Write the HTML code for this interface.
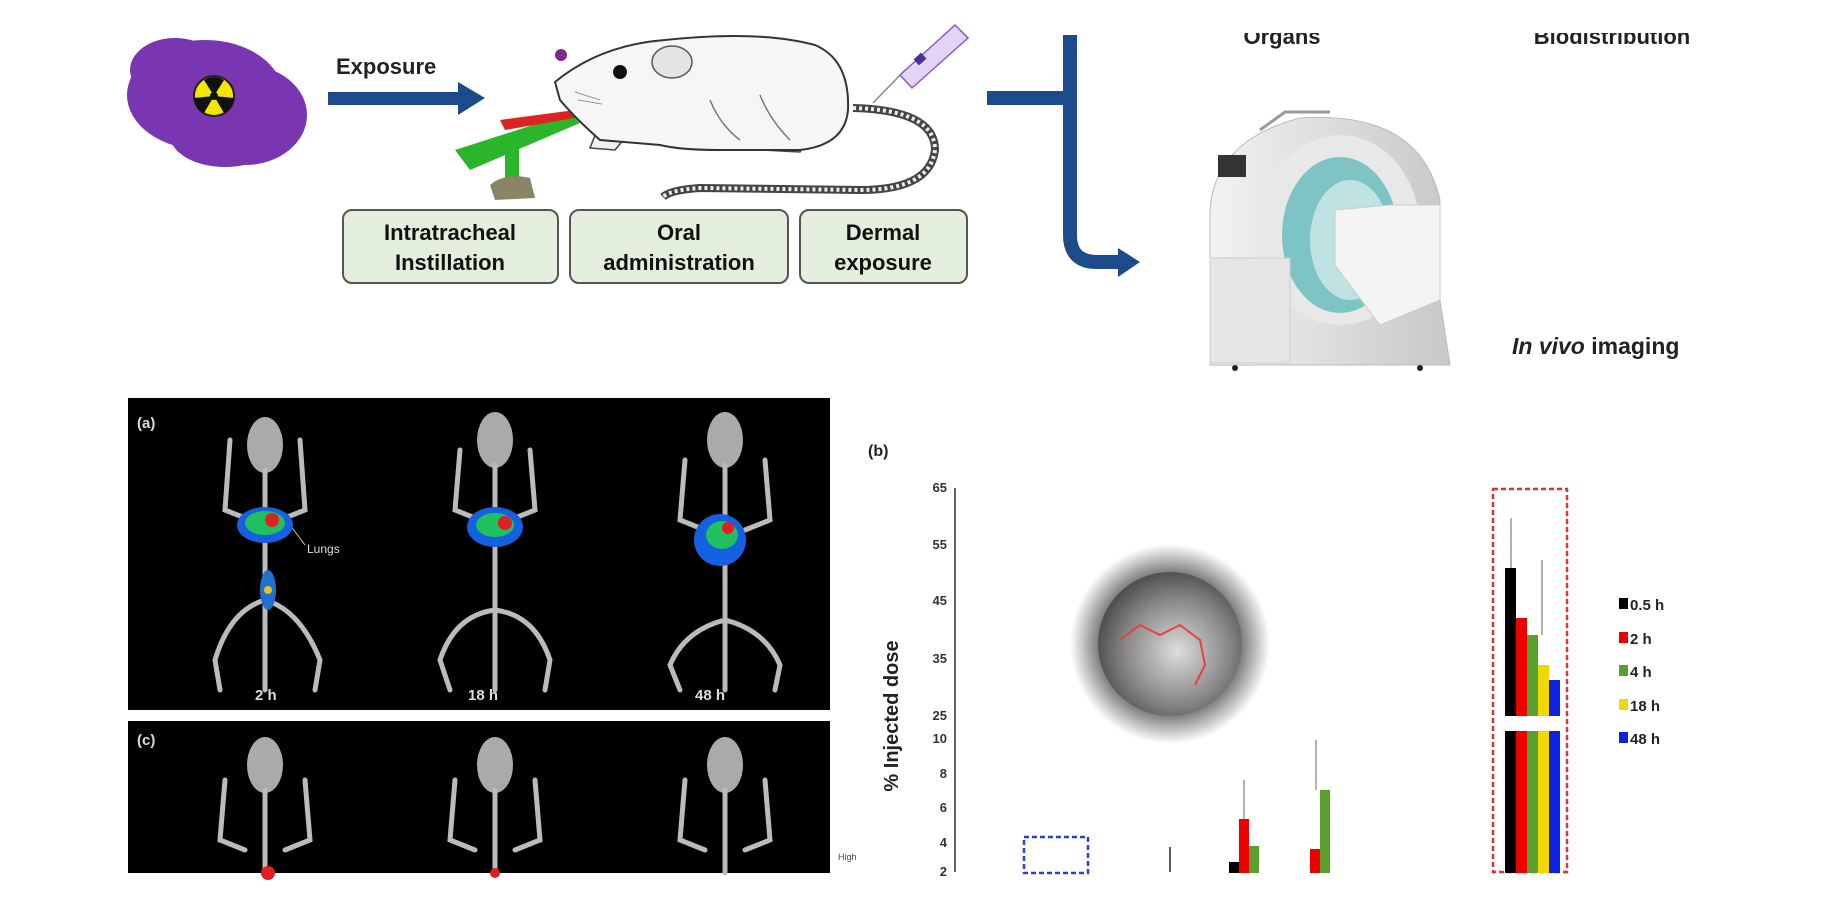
<!DOCTYPE html>
<html><head><meta charset="utf-8"><style>
html,body{margin:0;padding:0;background:#fff;}
svg{display:block;font-family:"Liberation Sans",sans-serif;}
</style></head><body>
<svg width="1843" height="900" viewBox="0 0 1843 900" xmlns="http://www.w3.org/2000/svg">
<defs>
<radialGradient id="glow" cx="50%" cy="50%" r="50%">
<stop offset="0.7" stop-color="#555"/><stop offset="1" stop-color="#fff"/></radialGradient>
<radialGradient id="ball" cx="55%" cy="55%" r="60%">
<stop offset="0" stop-color="#ddd"/><stop offset="0.6" stop-color="#888"/><stop offset="1" stop-color="#444"/></radialGradient>
<linearGradient id="scan" x1="0" x2="1"><stop offset="0" stop-color="#f2f2f2"/><stop offset="1" stop-color="#c8c8c8"/></linearGradient>
</defs>
<rect width="1843" height="900" fill="#fff"/>

<!-- purple blob -->
<g fill="#7a35b0">
<ellipse cx="205" cy="95" rx="78" ry="55"/>
<ellipse cx="245" cy="115" rx="62" ry="50"/>
<ellipse cx="225" cy="135" rx="55" ry="32"/>
<ellipse cx="175" cy="70" rx="45" ry="32"/>
</g>
<circle cx="214" cy="96" r="20" fill="#f5e600" stroke="#222" stroke-width="2"/>
<circle cx="214" cy="96" r="4" fill="#111"/>
<path d="M214 96 L204 80 A18 18 0 0 1 224 80Z M214 96 L234 98 A18 18 0 0 1 224 113Z M214 96 L204 113 A18 18 0 0 1 194 98Z" fill="#111"/>

<text x="336" y="74" font-size="22" font-weight="bold" fill="#222">Exposure</text>
<rect x="328" y="92" width="132" height="13" fill="#1d4a8a"/>
<polygon points="458,82 485,98 458,115" fill="#1d4a8a"/>

<!-- instillation device -->
<circle cx="561" cy="55" r="6" fill="#7a2a8a"/>
<polygon points="455,150 570,113 580,123 470,170" fill="#2bb52b"/>
<polygon points="500,120 575,110 580,117 505,130" fill="#d22"/>
<rect x="505" y="140" width="14" height="45" fill="#2bb52b"/>
<path d="M490 185 Q505 172 530 178 L535 198 L495 200Z" fill="#8b8567"/>

<!-- rat -->
<path d="M598 128 L590 148 L615 150 L625 138" fill="#f0f0f0" stroke="#444" stroke-width="1.5"/>
<path d="M770 135 L762 150 L800 152 L805 140" fill="#f0f0f0" stroke="#444" stroke-width="1.5"/>
<path d="M555 82 Q600 45 665 40 Q760 30 815 45 Q850 60 848 110 Q845 145 800 150 L720 150 Q680 150 660 145 L600 140 Q575 118 560 100Z" fill="#f6f6f6" stroke="#333" stroke-width="2"/>
<path d="M710 100 Q720 125 740 140 M760 95 Q770 120 790 140" fill="none" stroke="#777" stroke-width="1.5"/>
<path d="M575 92 L600 100 M578 100 L602 104" stroke="#999" stroke-width="1"/>
<ellipse cx="672" cy="62" rx="20" ry="16" fill="#e4e4e4" stroke="#555" stroke-width="1.5"/>
<circle cx="620" cy="72" r="7" fill="#111"/>
<path d="M853 108 Q935 110 935 150 Q930 190 860 190 L700 188 Q670 190 663 197" fill="none" stroke="#444" stroke-width="8"/>
<path d="M853 108 Q935 110 935 150 Q930 190 860 190 L700 188 Q670 190 663 197" fill="none" stroke="#eee" stroke-width="4" stroke-dasharray="3 3"/>
<line x1="873" y1="103" x2="905" y2="70" stroke="#888" stroke-width="1.5"/>
<polygon points="900,75 955,25 968,38 912,88" fill="#e2d4f2" stroke="#8a5ac0" stroke-width="1.5"/>
<rect x="915" y="55" width="10" height="8" fill="#4a3090" transform="rotate(-42 920 59)"/>

<!-- boxes -->
<g font-size="22" font-weight="bold" fill="#111" text-anchor="middle">
<rect x="343" y="210" width="215" height="73" rx="9" fill="#e3eedd" stroke="#555" stroke-width="2"/>
<text x="450" y="240">Intratracheal</text><text x="450" y="270">Instillation</text>
<rect x="570" y="210" width="218" height="73" rx="9" fill="#e3eedd" stroke="#555" stroke-width="2"/>
<text x="679" y="240">Oral</text><text x="679" y="270">administration</text>
<rect x="800" y="210" width="167" height="73" rx="9" fill="#e3eedd" stroke="#555" stroke-width="2"/>
<text x="883" y="240">Dermal</text><text x="883" y="270">exposure</text>
</g>

<!-- blue connector -->
<path d="M987 98 L1070 98 M1070 35 L1070 235 Q1070 262 1097 262 L1120 262" fill="none" stroke="#1d4a8a" stroke-width="14"/>
<polygon points="1118,248 1140,262 1118,277" fill="#1d4a8a"/>

<text x="1282" y="44" font-size="22" font-weight="bold" fill="#222" text-anchor="middle">Organs</text>
<text x="1612" y="44" font-size="22" font-weight="bold" fill="#222" text-anchor="middle">Biodistribution</text>
<rect x="1200" y="0" width="600" height="33" fill="#fff"/>

<!-- scanner -->
<path d="M1210 210 Q1215 140 1300 118 Q1420 110 1440 200 L1440 300 L1450 365 L1210 365Z" fill="url(#scan)" stroke="#bbb"/>
<path d="M1260 130 L1285 112 L1330 112" fill="none" stroke="#999" stroke-width="3"/>
<ellipse cx="1340" cy="230" rx="80" ry="95" fill="#e8e8e8"/>
<ellipse cx="1340" cy="235" rx="58" ry="78" fill="#7fc4c4"/>
<ellipse cx="1350" cy="240" rx="40" ry="60" fill="#bfe2e2"/>
<path d="M1335 210 L1390 205 L1440 205 L1440 300 L1380 325 L1335 265Z" fill="#f4f4f4" stroke="#ccc"/>
<rect x="1218" y="155" width="28" height="22" fill="#333"/>
<rect x="1210" y="258" width="80" height="105" fill="#e6e6e6" stroke="#ccc"/>
<circle cx="1235" cy="368" r="3" fill="#222"/><circle cx="1420" cy="368" r="3" fill="#222"/>

<text x="1512" y="354" font-size="23" font-weight="bold" fill="#222"><tspan font-style="italic">In vivo</tspan> imaging</text>

<!-- panel a -->
<rect x="128" y="398" width="702" height="312" fill="#000"/>
<rect x="128" y="721" width="702" height="152" fill="#000"/>
<g font-size="15" fill="#ddd" font-weight="bold">
<text x="137" y="428">(a)</text><text x="137" y="745">(c)</text>
<text x="255" y="700">2 h</text><text x="468" y="700">18 h</text><text x="695" y="700">48 h</text>
<text x="307" y="553" font-size="12" font-weight="normal">Lungs</text>
</g>
<line x1="290" y1="525" x2="305" y2="545" stroke="#ccc"/>
<g fill="none" stroke="#bbb" stroke-width="5" stroke-linecap="round">
<ellipse cx="265" cy="445" rx="18" ry="28" fill="#aaa" stroke="none"/>
<path d="M265 470 L265 690 M230 440 L225 510 L250 520 M300 440 L305 510 L280 520 M265 600 Q230 610 215 660 L220 690 M265 600 Q300 610 320 660 L315 690"/>
<ellipse cx="495" cy="440" rx="18" ry="28" fill="#aaa" stroke="none"/>
<path d="M495 465 L495 690 M460 450 L455 510 L480 520 M530 450 L535 510 L510 520 M495 610 Q455 615 440 660 L450 690 M495 610 Q535 615 550 660 L545 690"/>
<ellipse cx="725" cy="440" rx="18" ry="28" fill="#aaa" stroke="none"/>
<path d="M725 465 L725 690 M685 460 L680 520 L705 530 M765 460 L770 520 L745 530 M725 620 Q685 630 670 665 L680 690 M725 620 Q765 630 780 665 L775 690"/>
<ellipse cx="265" cy="765" rx="18" ry="28" fill="#aaa" stroke="none"/>
<path d="M265 790 L265 873 M225 780 L220 840 L245 850 M305 780 L310 840 L285 850"/>
<ellipse cx="495" cy="765" rx="18" ry="28" fill="#aaa" stroke="none"/>
<path d="M495 790 L495 873 M455 780 L450 840 L475 850 M535 780 L540 840 L515 850"/>
<ellipse cx="725" cy="765" rx="18" ry="28" fill="#aaa" stroke="none"/>
<path d="M725 790 L725 873 M685 780 L680 840 L705 850 M765 780 L770 840 L745 850"/>
</g>
<g>
<ellipse cx="265" cy="525" rx="28" ry="18" fill="#1560e0"/><ellipse cx="265" cy="523" rx="20" ry="12" fill="#20c060"/><circle cx="272" cy="520" r="7" fill="#e02020"/>
<ellipse cx="495" cy="527" rx="28" ry="20" fill="#1560e0"/><ellipse cx="495" cy="525" rx="19" ry="12" fill="#20c060"/><circle cx="505" cy="523" r="7" fill="#e02020"/>
<ellipse cx="720" cy="540" rx="26" ry="26" fill="#1560e0"/><ellipse cx="722" cy="535" rx="16" ry="14" fill="#20c060"/><circle cx="728" cy="528" r="6" fill="#e02020"/>
<ellipse cx="268" cy="590" rx="8" ry="20" fill="#2070d0"/><circle cx="268" cy="590" r="4" fill="#e8c020"/>
<circle cx="268" cy="873" r="7" fill="#e02020"/><circle cx="495" cy="873" r="5" fill="#e02020"/>
</g>

<!-- chart -->
<text x="868" y="456" font-size="16" font-weight="bold" fill="#222">(b)</text>
<line x1="955" y1="488" x2="955" y2="872" stroke="#333" stroke-width="1.5"/>
<g font-size="13" font-weight="bold" fill="#333" text-anchor="end">
<text x="947" y="492">65</text><text x="947" y="549">55</text><text x="947" y="605">45</text><text x="947" y="663">35</text><text x="947" y="720">25</text><text x="947" y="743">10</text><text x="947" y="778">8</text><text x="947" y="812">6</text><text x="947" y="847">4</text><text x="947" y="876">2</text>
</g>
<text transform="translate(898,716) rotate(-90)" font-size="20" font-weight="bold" fill="#222" text-anchor="middle">% Injected dose</text>
<text x="838" y="860" font-size="9" fill="#444">High</text>

<circle cx="1170" cy="644" r="100" fill="url(#glow)" opacity="0.8"/>
<circle cx="1170" cy="644" r="72" fill="url(#ball)"/>
<path d="M1120 640 L1140 625 L1160 635 L1180 625 L1200 640 L1205 665 L1195 685" fill="none" stroke="#e84040" stroke-width="2"/>

<rect x="1024" y="837" width="64" height="36" fill="none" stroke="#2a40e0" stroke-width="2.5" stroke-dasharray="5 3"/>
<line x1="1170" y1="847" x2="1170" y2="872" stroke="#222" stroke-width="1.5"/>
<rect x="1229" y="862" width="10" height="11" fill="#000"/>
<rect x="1239" y="819" width="10" height="54" fill="#e00"/>
<rect x="1249" y="846" width="10" height="27" fill="#5aa030"/>
<line x1="1244" y1="819" x2="1244" y2="780" stroke="#666"/>
<line x1="1316" y1="790" x2="1316" y2="740" stroke="#666"/>
<rect x="1310" y="849" width="10" height="24" fill="#e00"/>
<rect x="1320" y="790" width="10" height="83" fill="#5aa030"/>

<rect x="1493" y="489" width="74" height="383" fill="none" stroke="#e03030" stroke-width="2.5" stroke-dasharray="5 3"/>
<line x1="1511" y1="568" x2="1511" y2="518" stroke="#666"/>
<line x1="1542" y1="635" x2="1542" y2="560" stroke="#666"/>
<rect x="1505" y="568" width="11" height="148" fill="#000"/>
<rect x="1516" y="618" width="11" height="98" fill="#e00"/>
<rect x="1527" y="635" width="11" height="81" fill="#5aa030"/>
<rect x="1538" y="665" width="11" height="51" fill="#f0d800"/>
<rect x="1549" y="680" width="11" height="36" fill="#1020e0"/>
<rect x="1505" y="731" width="11" height="142" fill="#000"/>
<rect x="1516" y="731" width="11" height="142" fill="#e00"/>
<rect x="1527" y="731" width="11" height="142" fill="#5aa030"/>
<rect x="1538" y="731" width="11" height="142" fill="#f0d800"/>
<rect x="1549" y="731" width="11" height="142" fill="#1020e0"/>

<g font-size="15" font-weight="bold" fill="#222">
<rect x="1619" y="598" width="9" height="11" fill="#000"/><text x="1630" y="610">0.5 h</text>
<rect x="1619" y="632" width="9" height="11" fill="#e00"/><text x="1630" y="644">2 h</text>
<rect x="1619" y="665" width="9" height="11" fill="#5aa030"/><text x="1630" y="677">4 h</text>
<rect x="1619" y="699" width="9" height="11" fill="#f0d800"/><text x="1630" y="711">18 h</text>
<rect x="1619" y="732" width="9" height="11" fill="#1020e0"/><text x="1630" y="744">48 h</text>
</g>
</svg>
</body></html>
